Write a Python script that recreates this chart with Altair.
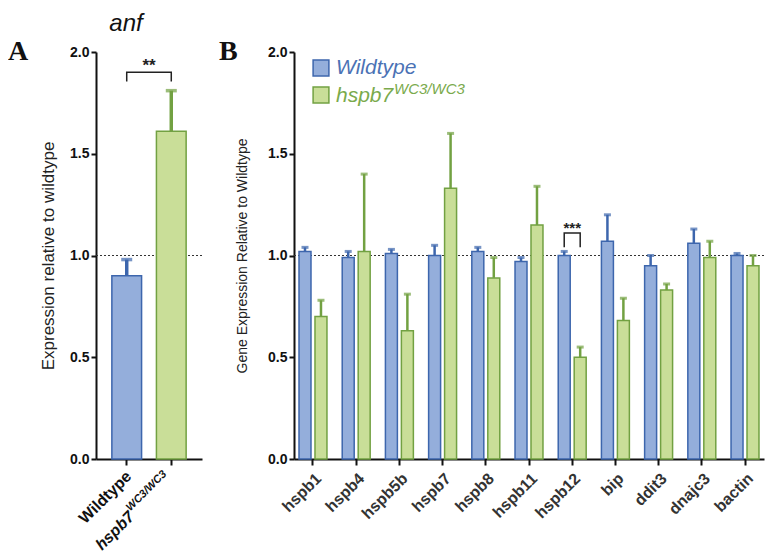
import altair as alt
import pandas as pd

# ---------------- data ----------------
anf_groups = ["Wildtype", "hspb7"]
anf_mean = [0.90, 1.61]
anf_err = [0.98, 1.81]

genes = ["hspb1", "hspb4", "hspb5b", "hspb7", "hspb8", "hspb11",
         "hspb12", "bip", "ddit3", "dnajc3", "bactin"]
wt_mean = [1.02, 0.99, 1.01, 1.00, 1.02, 0.97, 1.00, 1.07, 0.95, 1.06, 1.00]
wt_err = [1.04, 1.02, 1.03, 1.05, 1.04, 0.99, 1.02, 1.20, 1.00, 1.13, 1.01]
mut_mean = [0.70, 1.02, 0.63, 1.33, 0.89, 1.15, 0.50, 0.68, 0.83, 0.99, 0.95]
mut_err = [0.78, 1.40, 0.81, 1.60, 0.99, 1.34, 0.55, 0.79, 0.86, 1.07, 1.00]
groups = ["Wildtype", "hspb7"]
y_ticks = [0, 0.5, 1.0, 1.5, 2.0]

WT_FILL, WT_DARK = "#94AEDB", "#3D66AD"
MUT_FILL, MUT_DARK = "#C9DE98", "#72A142"
FONT = "Liberation Sans"
H = 407
WA = 106
WB = 470


def one(**kw):
    return pd.DataFrame({k: [v] for k, v in kw.items()})


# ---------------- panel A ----------------
dfA = pd.DataFrame({"group": anf_groups, "mean": anf_mean, "err": anf_err})

xA = alt.X("group:N", sort=anf_groups,
           scale=alt.Scale(paddingInner=0.333, paddingOuter=0.356),
           axis=alt.Axis(labels=False, title=None, tickSize=6, tickWidth=2,
                         domainWidth=2))


def yA(field):
    return alt.Y(field, scale=alt.Scale(domain=[0, 2]),
                 axis=alt.Axis(values=y_ticks, format=".1f", grid=False,
                               labelFontWeight="bold", labelFontSize=14,
                               tickSize=5, tickWidth=2, domainWidth=2,
                               title="Expression relative to wildtype",
                               titleFontSize=17, titleFontWeight="normal",
                               titlePadding=12))


fill_s = alt.Scale(domain=groups, range=[WT_FILL, MUT_FILL])
dark_s = alt.Scale(domain=groups, range=[WT_DARK, MUT_DARK])
fillE = alt.Fill("group:N", scale=fill_s, legend=None)
strokeE = alt.Stroke("group:N", scale=dark_s, legend=None)
colorE = alt.Color("group:N", scale=dark_s, legend=None)

barsA = alt.Chart(dfA).mark_bar(strokeWidth=1.5).encode(x=xA, y=yA("mean:Q"), fill=fillE, stroke=strokeE)
errA = alt.Chart(dfA).mark_rule(strokeWidth=3.5).encode(x=xA, y=yA("mean:Q"), y2="err:Q", color=colorE)
capA = alt.Chart(dfA).mark_tick(size=11, thickness=3.5).encode(x=xA, y=yA("err:Q"), color=colorE)
refA = alt.Chart(one(r=1.0)).mark_rule(strokeDash=[2, 2], color="#333", strokeWidth=1).encode(y=alt.datum(1.0))

brA = pd.DataFrame({"group": ["Wildtype", "Wildtype", "hspb7", "hspb7"],
                    "y": [1.855, 1.90, 1.90, 1.855], "o": [0, 1, 2, 3]})
bracketA = alt.Chart(brA).mark_line(color="#222", strokeWidth=1.5).encode(
    x=xA, y=yA("y:Q"), order="o:O")
starsA = alt.Chart(one(t="**")).mark_text(fontSize=17, fontWeight="bold", font=FONT, color="#222").encode(
    x=alt.value(WA / 2), y=alt.datum(1.93), text="t:N")

lab1 = alt.Chart(one(group="Wildtype", t="Wildtype")).mark_text(
    angle=315, align="right", baseline="middle", fontSize=16, fontWeight="bold", font=FONT,
    color="#111", dx=-2, dy=5).encode(x=xA, y=alt.value(H + 10), text="t:N")
lab2 = alt.Chart(one(group="hspb7", t="hspb7")).mark_text(
    angle=315, align="right", baseline="middle", fontSize=16, fontWeight="bold", fontStyle="italic",
    font=FONT, color="#111", dx=-60, dy=4).encode(x=xA, y=alt.value(H + 10), text="t:N")
lab3 = alt.Chart(one(group="hspb7", t="WC3/WC3")).mark_text(
    angle=315, align="right", baseline="middle", fontSize=11, fontWeight="bold", fontStyle="italic",
    font=FONT, color="#111", dx=-7, dy=-2).encode(x=xA, y=alt.value(H + 10), text="t:N")
letterA = alt.Chart(one(t="A")).mark_text(fontSize=28, fontWeight="bold", font="Liberation Serif",
                                          align="left", baseline="alphabetic", color="#111").encode(
    x=alt.value(-88), y=alt.value(8), text="t:N")

panelA = alt.layer(refA, barsA, errA, capA, bracketA, starsA, lab1, lab2, lab3, letterA).properties(
    width=WA, height=H,
    title=alt.TitleParams("anf", fontSize=24, fontStyle="italic", fontWeight="normal", font=FONT,
                          offset=2, dx=-23, color="#111"))

# ---------------- panel B ----------------
rows = []
for i, g in enumerate(genes):
    rows.append({"gene": g, "group": "Wildtype", "mean": wt_mean[i], "err": wt_err[i]})
    rows.append({"gene": g, "group": "hspb7", "mean": mut_mean[i], "err": mut_err[i]})
dfB = pd.DataFrame(rows)

xB = alt.X("gene:N", sort=genes,
           scale=alt.Scale(paddingInner=0.353, paddingOuter=0.116),
           axis=alt.Axis(title=None, labelAngle=-45, labelFontSize=16, labelFontWeight="bold",
                         labelColor="#333", tickSize=6, tickWidth=2, domainWidth=2,
                         labelPadding=5))
xoB = alt.XOffset("group:N", sort=groups, scale=alt.Scale(paddingInner=0.25, paddingOuter=0))


def yB(field):
    return alt.Y(field, scale=alt.Scale(domain=[0, 2]),
                 axis=alt.Axis(values=y_ticks, format=".1f", grid=False,
                               labelFontWeight="bold", labelFontSize=14,
                               tickSize=5, tickWidth=2, domainWidth=2,
                               title="Gene Expression Relative to Wildtype",
                               titleFontSize=14, titleFontWeight="normal",
                               titlePadding=18))


barsB = alt.Chart(dfB).mark_bar(strokeWidth=1.5).encode(x=xB, xOffset=xoB, y=yB("mean:Q"), fill=fillE, stroke=strokeE)
errB = alt.Chart(dfB).mark_rule(strokeWidth=2.5).encode(x=xB, xOffset=xoB, y=yB("mean:Q"), y2="err:Q", color=colorE)
capB = alt.Chart(dfB).mark_tick(size=7, thickness=3).encode(x=xB, xOffset=xoB, y=yB("err:Q"), color=colorE)
refB = alt.Chart(one(r=1.0)).mark_rule(strokeDash=[2, 2], color="#333", strokeWidth=1).encode(y=alt.datum(1.0))

brB = pd.DataFrame({"gene": ["hspb12"] * 4, "group": ["Wildtype", "Wildtype", "hspb7", "hspb7"],
                    "y": [1.04, 1.11, 1.11, 1.04], "o": [0, 1, 2, 3]})
bracketB = alt.Chart(brB).mark_line(color="#222", strokeWidth=1.5).encode(
    x=xB, xOffset=xoB, y=yB("y:Q"), order="o:O")
starsB = alt.Chart(one(gene="hspb12", t="***")).mark_text(
    fontSize=15, fontWeight="bold", font=FONT, color="#222").encode(
    x=xB, y=alt.datum(1.135), text="t:N")

legB_sq = alt.Chart(pd.DataFrame({"group": groups, "ly": [16, 43]})).mark_square(
    size=250, strokeWidth=1.5, opacity=1).encode(
    x=alt.value(27), y=alt.Y("ly:Q", scale=None), fill=fillE, stroke=strokeE)
legB_t1 = alt.Chart(one(t="Wildtype")).mark_text(fontSize=21, fontStyle="italic", font=FONT,
                                                 color="#4B72B5", align="left", baseline="middle").encode(
    x=alt.value(42), y=alt.value(16), text="t:N")
legB_t2 = alt.Chart(one(t="hspb7")).mark_text(fontSize=21, fontStyle="italic", font=FONT,
                                              color="#7AAA4C", align="left", baseline="middle").encode(
    x=alt.value(42), y=alt.value(44), text="t:N")
legB_t3 = alt.Chart(one(t="WC3/WC3")).mark_text(fontSize=15, fontStyle="italic", font=FONT,
                                                color="#7AAA4C", align="left", baseline="middle").encode(
    x=alt.value(100), y=alt.value(37), text="t:N")
letterB = alt.Chart(one(t="B")).mark_text(fontSize=28, fontWeight="bold", font="Liberation Serif",
                                          align="left", baseline="alphabetic", color="#111").encode(
    x=alt.value(-75), y=alt.value(8), text="t:N")

panelB = alt.layer(refB, barsB, errB, capB, bracketB, starsB, legB_sq, legB_t1, legB_t2, legB_t3,
                   letterB).properties(width=WB, height=H)

chart = alt.hconcat(panelA, panelB, spacing=92, bounds="flush").properties(
    padding={"left": 0, "top": 4, "right": 2, "bottom": 2}
).configure_view(stroke=None).configure_axis(
    labelFont=FONT, titleFont=FONT, domainColor="#111", tickColor="#111",
    labelColor="#111", titleColor="#222"
)

chart.save("out.html", embed_options={"renderer": "svg", "actions": False})
